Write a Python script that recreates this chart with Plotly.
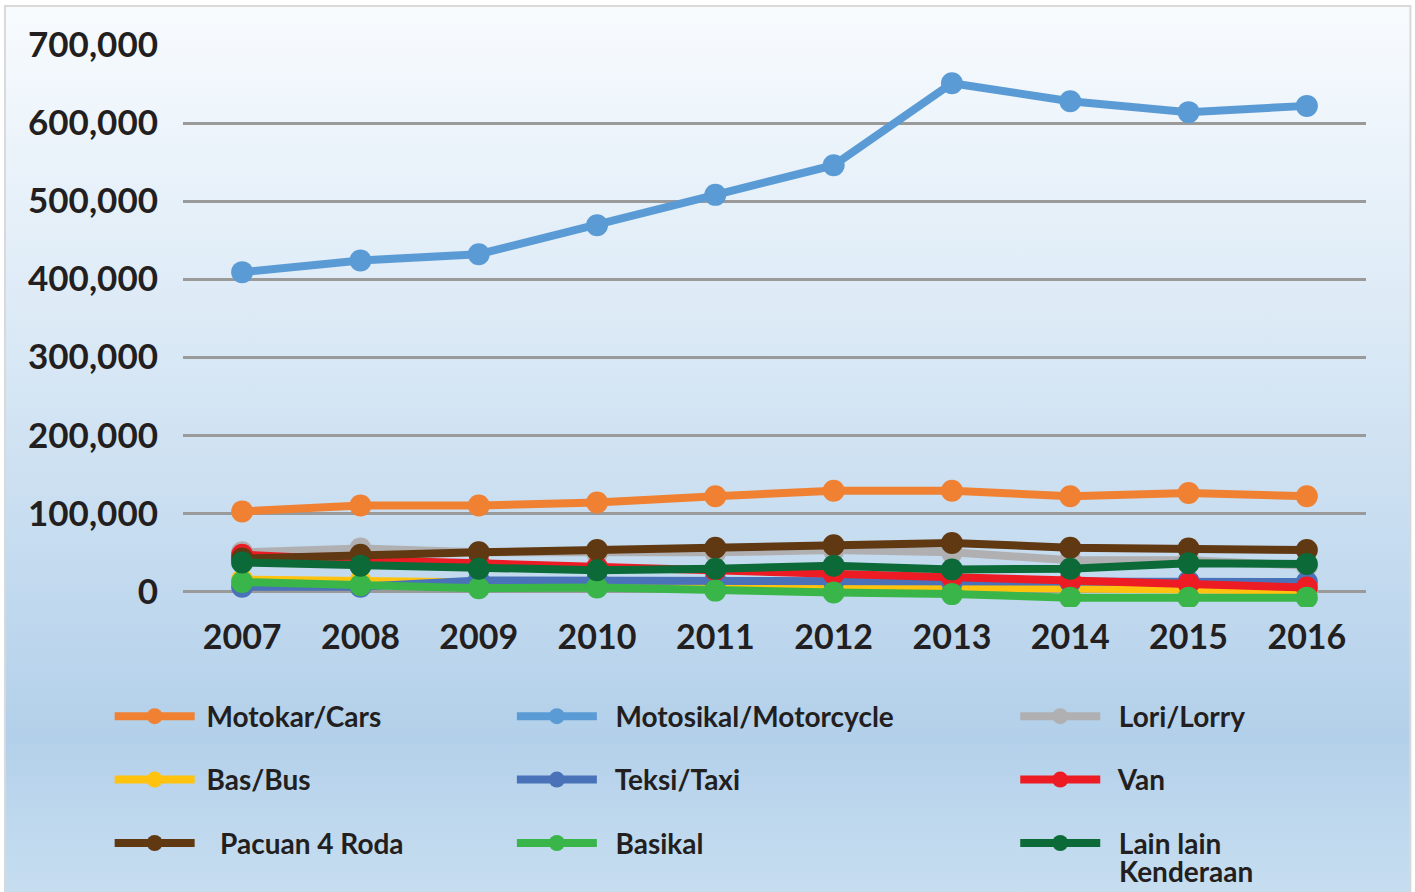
import base64
import plotly.graph_objects as go

# Data
years = ['2007', '2008', '2009', '2010', '2011', '2012', '2013', '2014', '2015', '2016']

motokar = [102500, 110000, 110000, 114000, 122000, 129000, 129000, 122000, 126000, 122000]
motosikal = [409000, 424000, 432000, 469000, 508000, 546000, 651000, 628000, 614000, 622000]
lori = [50000, 55000, 50000, 49000, 50000, 53000, 50000, 40000, 40000, 33000]
bas = [15000, 13000, 10000, 8000, 7000, 6000, 5000, 4000, 2000, 1000]
teksi = [6000, 6000, 14000, 14000, 14000, 14000, 12000, 12000, 13000, 12000]
van = [47000, 40000, 36000, 31000, 27000, 23000, 18000, 14000, 10000, 5000]
pacuan = [42000, 47000, 50000, 53000, 56000, 59000, 62000, 56000, 55000, 53000]
basikal = [12000, 8000, 4000, 5000, 1000, -1500, -3500, -8000, -8000, -8000]
lain_lain = [37000, 33000, 29000, 27000, 29000, 33000, 28000, 29000, 36000, 35000]

series = [
    (' Motokar/Cars', motokar, '#f08133', 'legend'),
    ('  Motosikal/Motorcycle', motosikal, '#5b9bd5', 'legend2'),
    ('  Lori/Lorry', lori, '#b0b0b2', 'legend3'),
    (' Bas/Bus', bas, '#ffc20e', 'legend'),
    ('  Teksi/Taxi', teksi, '#4a72b8', 'legend2'),
    ('  Van', van, '#ed1c24', 'legend3'),
    ('   Pacuan 4 Roda', pacuan, '#603913', 'legend'),
    ('  Basikal', basikal, '#39b54a', 'legend2'),
    ('  Lain lain', lain_lain, '#0b6a38', 'legend3'),
]

fig = go.Figure()
for name, vals, color, leg in series:
    fig.add_trace(go.Scatter(
        x=years, y=vals, name=name, mode='lines+markers',
        line=dict(color=color, width=8),
        marker=dict(color=color, size=22),
        legend=leg, legendgroup=name,
    ))

# background gradient with thin border, as an svg image
W, H = 1415, 892
svg = f'''<svg xmlns="http://www.w3.org/2000/svg" width="{W}" height="{H}" viewBox="0 0 {W} {H}" preserveAspectRatio="none">
<defs><linearGradient id="g" x1="0" y1="0" x2="0" y2="1">
<stop offset="0" stop-color="#f8fbfe"/>
<stop offset="0.35" stop-color="#dceaf6"/>
<stop offset="0.82" stop-color="#b3d0ea"/>
<stop offset="1" stop-color="#c7def0"/>
</linearGradient></defs>
<rect x="0" y="0" width="{W}" height="{H}" fill="#ffffff"/>
<rect x="5" y="6" width="1405" height="890" fill="url(#g)" stroke="#d9d9d9" stroke-width="2"/>
</svg>'''
src = 'data:image/svg+xml;base64,' + base64.b64encode(svg.encode()).decode()

L, R, T, B = 183, 49.4, 45, 285.4
pw = W - L - R
ph = H - T - B

fig.add_layout_image(dict(
    source=src, xref='paper', yref='paper',
    x=-L / pw, y=1 + T / ph, sizex=W / pw, sizey=H / ph,
    xanchor='left', yanchor='top', sizing='stretch', layer='below',
))

font = dict(family='Lato, Century Gothic, sans-serif', color='#231f20')
leg_font = dict(size=28, weight='bold', **font)
leg_common = dict(
    orientation='v', yanchor='top', xanchor='left', y=-0.1503,
    bgcolor='rgba(0,0,0,0)', font=leg_font,
    itemwidth=80, tracegroupgap=24, valign='top',
)

# second line of the last legend label, set tighter than a <br> would
fig.add_annotation(
    text='Kenderaan', xref='paper', yref='paper',
    x=(1117 - L) / pw, y=-(870 - (H - B)) / ph,
    xanchor='left', yanchor='middle', showarrow=False, font=leg_font,
)

fig.update_layout(
    width=W, height=H,
    margin=dict(l=L, r=R, t=T, b=B, autoexpand=False),
    paper_bgcolor='white', plot_bgcolor='rgba(0,0,0,0)',
    font=font,
    xaxis=dict(
        type='category', range=[-0.5, 9.5], showgrid=False, showline=False,
        zeroline=False, ticks='', tickfont=dict(size=34, weight='bold', **font),
        ticklabelstandoff=7,
    ),
    yaxis=dict(
        range=[-20000, 700000], tickvals=[0, 100000, 200000, 300000, 400000, 500000, 600000, 700000],
        tickformat=',d', showgrid=True, gridcolor='#9a9a9a', gridwidth=2.5,
        zeroline=False, showline=False, ticks='',
        tickfont=dict(size=35, weight='bold', **font), ticklabelstandoff=24,
    ),
    legend=dict(x=-0.062, **leg_common),
    legend2=dict(x=0.278, **leg_common),
    legend3=dict(x=0.7035, **leg_common),
)

fig.write_html('out.html', config={'displayModeBar': False},
               post_script="document.body.style.margin='0';")
